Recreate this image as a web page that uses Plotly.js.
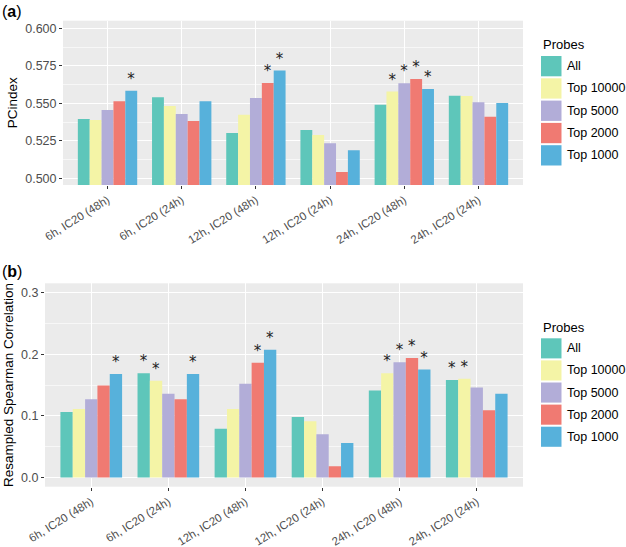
<!DOCTYPE html>
<html>
<head>
<meta charset="utf-8">
<script src="https://cdn.plot.ly/plotly-3.0.1.min.js"></script>
<style>
html,body{margin:0;padding:0;background:#fff;}
#chart{width:626px;height:547px;}
</style>
</head>
<body>
<div id="chart"></div>
<script>
// ---- data ----
const categories = ['6h, IC20 (48h)', '6h, IC20 (24h)', '12h, IC20 (48h)', '12h, IC20 (24h)', '24h, IC20 (48h)', '24h, IC20 (24h)'];
const seriesNames = ['All', 'Top 10000', 'Top 5000', 'Top 2000', 'Top 1000'];

// Panel (a): PCindex
const pcAll    = [0.5395, 0.5540, 0.5302, 0.5322, 0.5491, 0.5551];
const pcTop10k = [0.5389, 0.5482, 0.5424, 0.5289, 0.5578, 0.5549];
const pcTop5k  = [0.5455, 0.5429, 0.5535, 0.5233, 0.5633, 0.5507];
const pcTop2k  = [0.5513, 0.5382, 0.5636, 0.5042, 0.5662, 0.5411];
const pcTop1k  = [0.5584, 0.5513, 0.5718, 0.5187, 0.5595, 0.5502];
const pcStarsAll    = [0, 0, 0, 0, 0, 0];
const pcStarsTop10k = [0, 0, 0, 0, 1, 0];
const pcStarsTop5k  = [0, 0, 0, 0, 1, 0];
const pcStarsTop2k  = [0, 0, 1, 0, 1, 0];
const pcStarsTop1k  = [1, 0, 1, 0, 1, 0];

// Panel (b): Resampled Spearman Correlation
const spAll    = [0.106, 0.169, 0.079, 0.098, 0.141, 0.158];
const spTop10k = [0.111, 0.157, 0.111, 0.091, 0.169, 0.160];
const spTop5k  = [0.127, 0.136, 0.152, 0.070, 0.187, 0.146];
const spTop2k  = [0.149, 0.127, 0.186, 0.018, 0.194, 0.109];
const spTop1k  = [0.168, 0.168, 0.207, 0.056, 0.175, 0.136];
const spStarsAll    = [0, 1, 0, 0, 0, 1];
const spStarsTop10k = [0, 1, 0, 0, 1, 1];
const spStarsTop5k  = [0, 0, 0, 0, 1, 0];
const spStarsTop2k  = [0, 0, 1, 0, 1, 0];
const spStarsTop1k  = [1, 1, 1, 0, 1, 0];

// ---- styles ----
const colors = ['#5EC6BA', '#F4F4A6', '#B2ADD8', '#F07A72', '#57B1DB'];
const W = 626, H = 547;
const px = v => v / W;
const py = v => 1 - v / H;

const pcSeries = [pcAll, pcTop10k, pcTop5k, pcTop2k, pcTop1k];
const pcStars = [pcStarsAll, pcStarsTop10k, pcStarsTop5k, pcStarsTop2k, pcStarsTop1k];
const spSeries = [spAll, spTop10k, spTop5k, spTop2k, spTop1k];
const spStars = [spStarsAll, spStarsTop10k, spStarsTop5k, spStarsTop2k, spStarsTop1k];

const traces = [];
function addPanel(vals, stars, xa, ya) {
  vals.forEach((v, i) => {
    traces.push({
      type: 'bar', x: categories, y: v, name: seriesNames[i],
      xaxis: xa, yaxis: ya, showlegend: false,
      marker: {color: colors[i], line: {width: 0}},
      text: stars[i].map(s => s ? '*' : ''),
      textposition: 'outside', constraintext: 'none', cliponaxis: false,
      textfont: {family: 'DejaVu Sans, sans-serif', size: 15, color: '#222'},
      hoverinfo: 'x+y+name'
    });
  });
}
addPanel(pcSeries, pcStars, 'x', 'y');
addPanel(spSeries, spStars, 'x2', 'y2');

const font = {family: 'Liberation Sans, Arial, sans-serif'};
const tickFont = {family: font.family, size: 12.5, color: '#4D4D4D'};
const xTickFont = {family: font.family, size: 11.5, color: '#4D4D4D'};

function xAxis(domain, anchor) {
  return {
    domain: domain, anchor: anchor, type: 'category',
    range: [-0.6, 5.6], showgrid: true, gridcolor: '#FFFFFF', gridwidth: 1.2,
    ticks: 'outside', ticklen: 3, tickcolor: '#333', tickwidth: 1,
    tickangle: -32, tickfont: xTickFont, showline: false, zeroline: false,
    fixedrange: true
  };
}

// custom ggplot-style legends
const shapes = [];
const annotations = [];
function addLegend(titleY, keyTop, pitch) {
  annotations.push({
    xref: 'paper', yref: 'paper', x: px(541), y: py(titleY), xanchor: 'left', yanchor: 'middle',
    text: 'Probes', showarrow: false, font: {family: font.family, size: 13, color: '#000'}
  });
  seriesNames.forEach((n, i) => {
    const t = keyTop + i * pitch;
    shapes.push({
      type: 'rect', xref: 'paper', yref: 'paper',
      x0: px(541), x1: px(561.5), y0: py(t + 1), y1: py(t + pitch - 1),
      fillcolor: colors[i], line: {width: 0}
    });
    annotations.push({
      xref: 'paper', yref: 'paper', x: px(565), y: py(t + pitch / 2), xanchor: 'left', yanchor: 'middle',
      text: n, showarrow: false, font: {family: font.family, size: 12.5, color: '#000'}
    });
  });
}
addLegend(45, 55, 22.3);
addLegend(327, 337.3, 22.1);

annotations.push({
  xref: 'paper', yref: 'paper', x: 0, y: py(1), xanchor: 'left', yanchor: 'top',
  text: '(<b>a</b>)', showarrow: false, font: {family: font.family, size: 16, color: '#000'}
});
annotations.push({
  xref: 'paper', yref: 'paper', x: 0, y: py(261), xanchor: 'left', yanchor: 'top',
  text: '(<b>b</b>)', showarrow: false, font: {family: font.family, size: 16, color: '#000'}
});

const layout = {
  width: W, height: H,
  margin: {l: 0, r: 0, t: 0, b: 0},
  paper_bgcolor: '#FFFFFF', plot_bgcolor: '#EBEBEB',
  font: font,
  barmode: 'group', bargap: 0.2, bargroupgap: 0,
  showlegend: false,
  xaxis: xAxis([px(63), px(523)], 'y'),
  yaxis: {
    domain: [py(185), py(20.7)], anchor: 'x',
    range: [0.4955, 0.6051], tickvals: [0.5, 0.525, 0.55, 0.575, 0.6], tickformat: '.3f',
    showgrid: true, gridcolor: '#FFFFFF', gridwidth: 1.2,
    minor: {tickvals: [0.5125, 0.5375, 0.5625, 0.5875], showgrid: true, gridcolor: '#FFFFFF', gridwidth: 0.6, ticks: ''},
    ticks: 'outside', ticklen: 3, tickcolor: '#333', tickwidth: 1,
    tickfont: tickFont, zeroline: false, showline: false,
    title: {text: 'PCindex', font: {family: font.family, size: 13.5, color: '#000'}, standoff: 4},
    fixedrange: true
  },
  xaxis2: xAxis([px(45), px(523)], 'y2'),
  yaxis2: {
    domain: [py(486.7), py(283.3)], anchor: 'x2',
    range: [-0.015, 0.315], tickvals: [0, 0.1, 0.2, 0.3], tickformat: '.1f',
    showgrid: true, gridcolor: '#FFFFFF', gridwidth: 1.2,
    minor: {tickvals: [0.05, 0.15, 0.25], showgrid: true, gridcolor: '#FFFFFF', gridwidth: 0.6, ticks: ''},
    ticks: 'outside', ticklen: 3, tickcolor: '#333', tickwidth: 1,
    tickfont: tickFont, zeroline: false, showline: false,
    title: {text: 'Resampled Spearman Correlation', font: {family: font.family, size: 13.5, color: '#000'}, standoff: 4},
    fixedrange: true
  },
  shapes: shapes,
  annotations: annotations
};

Plotly.newPlot('chart', traces, layout, {displayModeBar: false, staticPlot: true});
</script>
</body>
</html>
